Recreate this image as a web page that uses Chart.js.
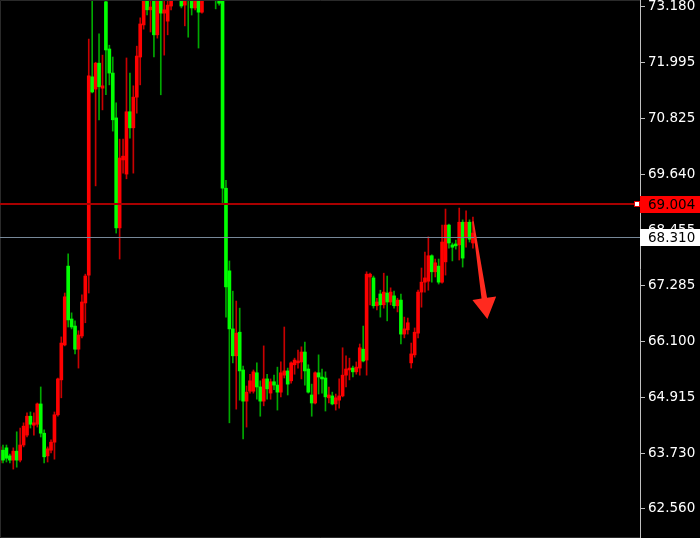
<!DOCTYPE html>
<html>
<head>
<meta charset="utf-8">
<script src="https://cdn.jsdelivr.net/npm/chart.js@4.4.1/dist/chart.umd.min.js"></script>
<style>
  html, body { margin: 0; padding: 0; background: #000; }
  canvas { display: block; }
</style>
</head>
<body>
<canvas id="priceChart" width="700" height="538"></canvas>
<script>
// candle values, one entry per bar (oldest first)
var opens = [
  63.52, 63.79, 63.84, 63.67, 63.58, 63.77, 63.58, 63.90, 64.11, 64.51,
  64.32, 64.34, 64.77, 64.15, 63.67, 63.79, 63.96, 64.54, 65.28, 66.02,
  67.69, 66.57, 66.42, 65.93, 66.21, 66.91, 67.50, 71.70, 71.44, 71.99,
  71.46, 73.29, 72.29, 71.78, 70.83, 68.50, 69.94, 69.64, 70.96, 70.62,
  71.27, 72.12, 72.80, 73.46, 73.12, 73.41, 72.59, 73.43, 73.05, 72.88,
  73.20, 73.54, 73.75, 73.50, 73.22, 73.65, 73.43, 73.16, 73.43, 73.07,
  73.50, 73.75, 73.54, 73.65, 73.54, 73.43, 69.34, 67.59, 66.36, 65.79,
  66.29, 65.49, 64.83, 65.04, 65.04, 65.43, 65.13, 64.83, 65.30, 65.00,
  65.24, 65.17, 65.02, 65.38, 65.47, 65.26, 65.60, 65.64, 65.66, 65.87,
  65.51, 64.96, 64.79, 65.43, 65.34, 65.32, 64.90, 64.94, 64.77, 64.85,
  64.94, 65.38, 65.49, 65.53, 65.45, 65.53, 65.93, 65.70, 67.46, 67.44,
  66.85, 67.10, 66.87, 67.12, 66.93, 67.06, 66.85, 66.97, 66.25, 66.34,
  65.64, 65.81, 66.27, 67.14, 67.35, 67.37, 67.91, 67.57, 67.69, 67.35,
  67.78, 68.56, 68.14, 68.16, 68.14, 68.62, 68.29, 68.62, 68.18
];
var highs = [
  63.90, 63.90, 63.90, 63.71, 63.84, 64.18, 64.26, 64.37, 64.58, 64.60,
  64.58, 64.79, 65.13, 64.22, 63.86, 64.01, 64.60, 65.32, 66.19, 67.12,
  67.95, 66.70, 66.53, 66.32, 67.08, 67.52, 72.50, 73.54, 72.01, 72.61,
  72.16, 73.65, 72.37, 72.12, 71.15, 70.38, 70.38, 72.10, 71.78, 71.51,
  72.35, 72.95, 73.58, 73.58, 73.50, 73.54, 73.54, 73.54, 73.46, 73.41,
  73.58, 73.86, 73.88, 73.65, 73.58, 73.75, 73.54, 73.58, 73.54, 73.58,
  73.86, 73.92, 73.84, 73.75, 73.65, 73.54, 69.51, 67.80, 67.16, 66.95,
  66.80, 65.57, 65.15, 65.40, 65.49, 65.64, 65.26, 66.00, 65.40, 65.30,
  65.38, 65.55, 65.66, 66.40, 65.53, 65.66, 65.74, 65.91, 65.98, 66.08,
  65.60, 65.19, 65.45, 65.81, 65.51, 65.45, 65.13, 65.02, 64.98, 65.30,
  65.96, 65.79, 65.74, 65.57, 65.66, 66.04, 66.42, 67.57, 67.54, 67.48,
  67.01, 67.18, 67.54, 67.48, 67.23, 67.16, 67.01, 67.10, 66.61, 66.59,
  66.06, 66.38, 67.18, 67.65, 67.99, 68.31, 67.93, 67.84, 67.84, 68.56,
  68.90, 68.58, 68.18, 68.24, 68.92, 68.67, 68.86, 68.67, 68.73
];
var lows = [
  63.46, 63.52, 63.54, 63.52, 63.39, 63.43, 63.54, 63.86, 64.07, 64.26,
  64.11, 64.28, 64.07, 63.52, 63.54, 63.73, 63.60, 64.51, 64.90, 66.00,
  66.40, 66.36, 65.83, 65.53, 66.17, 66.49, 67.12, 71.36, 69.39, 70.79,
  71.00, 71.32, 71.53, 70.55, 68.39, 67.84, 69.66, 69.54, 70.40, 69.66,
  70.93, 71.53, 72.71, 73.01, 72.65, 72.12, 72.52, 71.32, 72.16, 72.59,
  73.12, 73.43, 73.41, 73.16, 72.78, 72.54, 73.01, 73.12, 72.31, 73.05,
  73.37, 73.39, 73.41, 73.14, 73.22, 69.03, 66.61, 64.37, 65.64, 64.66,
  64.85, 64.03, 64.28, 65.00, 65.00, 64.87, 64.51, 64.73, 64.87, 64.87,
  65.07, 64.64, 64.92, 65.32, 64.96, 65.21, 65.40, 65.53, 65.30, 65.17,
  65.00, 64.51, 64.77, 64.98, 65.00, 64.62, 64.79, 64.75, 64.64, 64.68,
  64.92, 65.13, 65.28, 65.34, 65.40, 65.38, 65.66, 65.38, 66.87, 66.80,
  66.76, 66.61, 66.80, 66.53, 66.87, 66.80, 66.72, 66.04, 66.17, 66.25,
  65.53, 65.76, 66.17, 66.82, 67.14, 67.18, 67.35, 67.46, 67.31, 67.33,
  67.50, 68.07, 67.80, 68.05, 67.82, 67.67, 68.09, 68.20, 68.07
];
var closes = [
  63.86, 63.58, 63.62, 63.58, 63.77, 63.58, 63.90, 64.30, 64.51, 64.34,
  64.37, 64.77, 64.15, 63.65, 63.82, 63.96, 64.54, 65.30, 66.06, 67.04,
  66.55, 66.40, 65.93, 66.23, 66.93, 67.48, 71.72, 71.38, 71.99, 71.49,
  71.51, 72.27, 71.78, 70.79, 68.50, 69.98, 70.02, 70.96, 70.62, 71.27,
  72.14, 72.82, 73.43, 73.12, 73.18, 72.59, 73.39, 73.05, 73.12, 73.22,
  73.46, 73.71, 73.58, 73.20, 73.46, 73.37, 73.16, 73.46, 73.07, 73.43,
  73.71, 73.54, 73.67, 73.39, 73.26, 69.34, 67.25, 66.36, 65.79, 66.27,
  65.47, 64.83, 65.02, 65.26, 65.45, 65.13, 64.83, 65.30, 65.09, 65.24,
  65.17, 65.02, 65.43, 65.47, 65.19, 65.64, 65.70, 65.68, 65.87, 65.47,
  65.02, 64.79, 65.43, 65.34, 65.30, 64.92, 64.96, 64.77, 64.90, 64.94,
  65.38, 65.51, 65.53, 65.45, 65.55, 65.96, 65.68, 67.52, 67.52, 66.85,
  66.93, 66.87, 67.14, 66.93, 67.14, 66.85, 66.97, 66.25, 66.36, 66.49,
  65.83, 66.29, 67.14, 67.35, 67.44, 67.91, 67.57, 67.76, 67.35, 68.20,
  68.56, 68.18, 68.09, 68.12, 68.62, 67.86, 68.62, 68.26, 68.39
];

// right price scale
var tickValues = [73.180, 71.995, 70.825, 69.640, 68.455, 67.285, 66.100, 64.915, 63.730, 62.560];
var priceMin = 61.93;
var priceMax = 73.328;
var barMin = 0.125;
var barMax = 186.7;

var askPrice = 69.004;
var bidPrice = 68.310;

// hand-drawn arrow: [bar index, price]
var arrowFrom = [138, 68.64];
var arrowTo = [142.2, 66.57];

var upBody = '#ff0000', downBody = '#00ff00';
var upWick = '#c80000', downWick = '#00a800';

var wickData = [], bodyData = [], wickColors = [], bodyColors = [];
for (var i = 0; i < opens.length; i++) {
  var up = closes[i] >= opens[i];
  wickData.push({ x: i, y: [lows[i], highs[i]] });
  bodyData.push({ x: i, y: [opens[i], closes[i]] });
  wickColors.push(up ? upWick : downWick);
  bodyColors.push(up ? upBody : downBody);
}

var fontFamily = "'DejaVu Sans', sans-serif";

var overlay = {
  id: 'overlay',
  afterDatasetsDraw: function (chart) {
    var ctx = chart.ctx, area = chart.chartArea;
    var xs = chart.scales.x, ys = chart.scales.y;
    ctx.save();

    // frame
    ctx.strokeStyle = '#2a2a2a';
    ctx.lineWidth = 1;
    ctx.beginPath();
    ctx.moveTo(area.right, 0.5); ctx.lineTo(0.5, 0.5); ctx.lineTo(0.5, 537.5); ctx.lineTo(area.right, 537.5);
    ctx.stroke();

    // bid line
    var by = Math.round(ys.getPixelForValue(bidPrice)) + 0.5;
    ctx.strokeStyle = '#778899';
    ctx.lineWidth = 1;
    ctx.beginPath(); ctx.moveTo(area.left, by); ctx.lineTo(area.right, by); ctx.stroke();

    // ask line
    var ay = Math.round(ys.getPixelForValue(askPrice));
    ctx.strokeStyle = '#a80000';
    ctx.lineWidth = 2;
    ctx.beginPath(); ctx.moveTo(area.left, ay); ctx.lineTo(area.right, ay); ctx.stroke();
    ctx.fillStyle = '#ffffff';
    ctx.fillRect(area.right - 5, ay - 2, 4, 4);
    ctx.strokeStyle = '#e00000';
    ctx.lineWidth = 1;
    ctx.strokeRect(area.right - 5.5, ay - 2.5, 5, 5);

    // arrow
    var p0x = xs.getPixelForValue(arrowFrom[0]), p0y = ys.getPixelForValue(arrowFrom[1]);
    var p1x = xs.getPixelForValue(arrowTo[0]), p1y = ys.getPixelForValue(arrowTo[1]);
    var dx = p1x - p0x, dy = p1y - p0y, len = Math.sqrt(dx * dx + dy * dy);
    var ux = dx / len, uy = dy / len, nx = -uy, ny = ux;
    var headLen = 21, headHalf = 12, tailHalf = 0.8, neckHalf = 2.8;
    var bx = p1x - ux * headLen, byy = p1y - uy * headLen;
    ctx.fillStyle = '#ff2a1f';
    ctx.beginPath();
    ctx.moveTo(p0x + nx * tailHalf, p0y + ny * tailHalf);
    ctx.lineTo(bx + nx * neckHalf, byy + ny * neckHalf);
    ctx.lineTo(bx + nx * headHalf, byy + ny * headHalf);
    ctx.lineTo(p1x, p1y);
    ctx.lineTo(bx - nx * headHalf, byy - ny * headHalf);
    ctx.lineTo(bx - nx * neckHalf, byy - ny * neckHalf);
    ctx.lineTo(p0x - nx * tailHalf, p0y - ny * tailHalf);
    ctx.closePath();
    ctx.fill();

    ctx.restore();
  },
  afterDraw: function (chart) {
    var ctx = chart.ctx, area = chart.chartArea, ys = chart.scales.y;
    ctx.save();
    ctx.font = '13.5px ' + fontFamily;
    ctx.textBaseline = 'middle';
    ctx.textAlign = 'left';
    [[askPrice, '#ff0000'], [bidPrice, '#ffffff']].forEach(function (p) {
      var py = ys.getPixelForValue(p[0]);
      ctx.fillStyle = p[1];
      ctx.fillRect(area.right, Math.round(py) - 8, chart.width - area.right, 17);
      ctx.fillStyle = '#000000';
      ctx.fillText(p[0].toFixed(3), area.right + 8, Math.round(py) + 1);
    });
    ctx.restore();
  }
};

new Chart(document.getElementById('priceChart'), {
  type: 'bar',
  data: {
    datasets: [{
      data: wickData,
      backgroundColor: wickColors,
      barThickness: 1,
      order: 2,
      clip: 0
    }, {
      data: bodyData,
      backgroundColor: bodyColors,
      barThickness: 3,
      minBarLength: 1,
      order: 1,
      clip: 0
    }]
  },
  options: {
    responsive: false,
    animation: false,
    layout: { padding: 0 },
    datasets: { bar: { grouped: false, borderWidth: 0 } },
    plugins: {
      legend: { display: false },
      tooltip: { enabled: false }
    },
    scales: {
      x: {
        type: 'linear',
        display: false,
        offset: false,
        bounds: 'ticks',
        min: barMin,
        max: barMax
      },
      y: {
        position: 'right',
        min: priceMin,
        max: priceMax,
        afterBuildTicks: function (s) {
          s.ticks = tickValues.map(function (v) { return { value: v }; });
        },
        afterFit: function (s) {
          s.width = 60;
          s.paddingTop = 0;
          s.paddingBottom = 0;
        },
        ticks: {
          color: '#ffffff',
          autoSkip: false,
          padding: 3,
          font: { family: fontFamily, size: 13.5 },
          callback: function (v) { return Number(v).toFixed(3); }
        },
        grid: { drawOnChartArea: false, drawTicks: true, tickLength: 5, color: '#c0c0c0' },
        border: { display: true, color: '#c0c0c0', width: 1 }
      }
    }
  },
  plugins: [overlay]
});
</script>
</body>
</html>
